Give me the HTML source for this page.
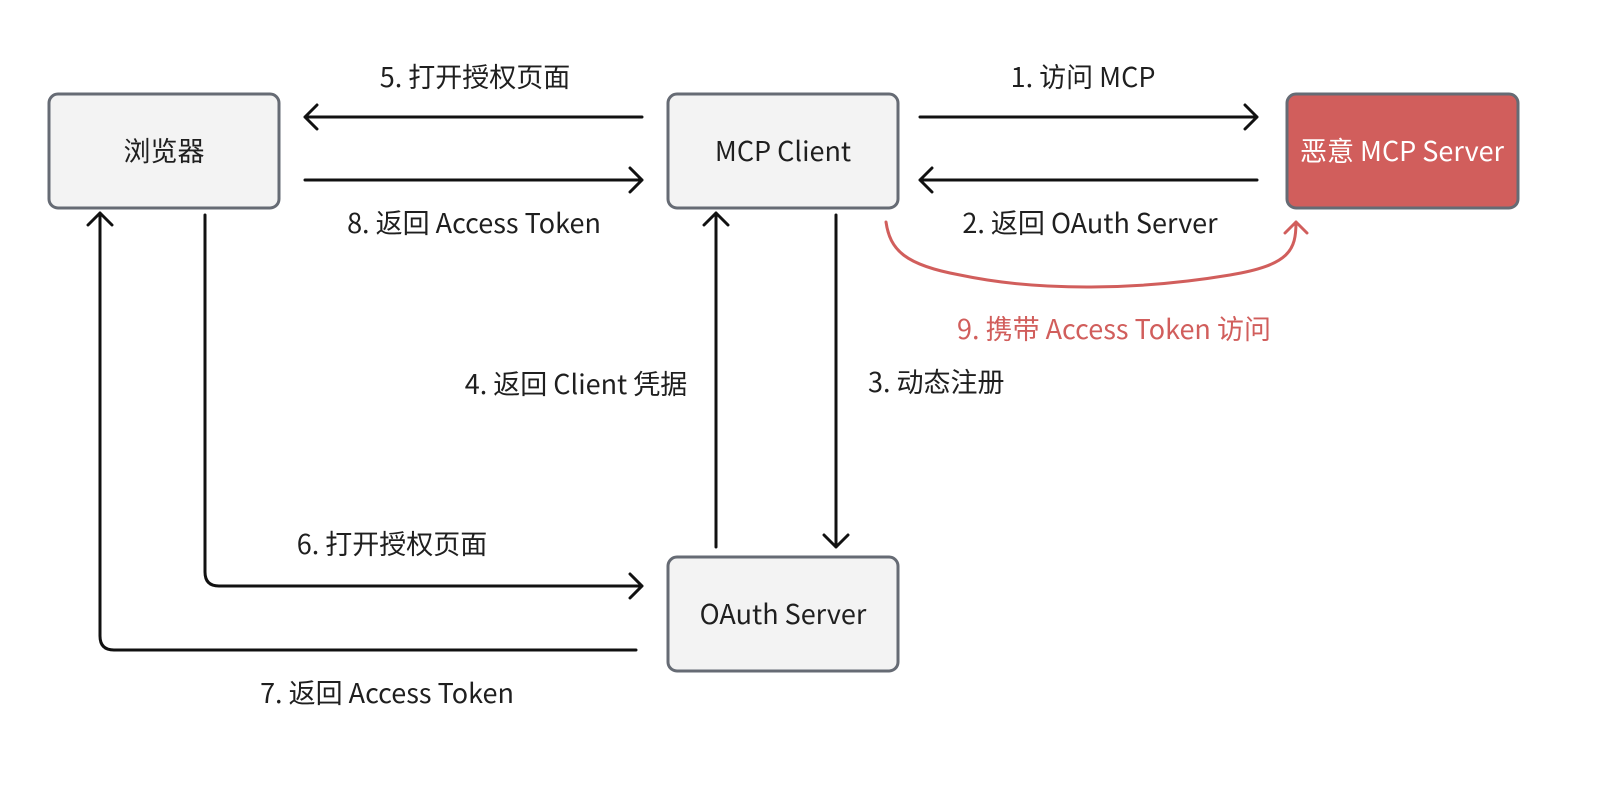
<!DOCTYPE html>
<html><head><meta charset="utf-8"><style>
body{margin:0;background:#fff;}
svg text{font-family:"Noto Sans CJK SC","Liberation Sans",sans-serif;font-size:27px;fill:#1f1f1f;}
</style></head><body>
<svg width="1606" height="788" viewBox="0 0 1606 788" xmlns="http://www.w3.org/2000/svg">
<g stroke="#666b74" stroke-width="3">
<rect x="49" y="94" width="230" height="114" rx="9" fill="#f3f3f3"/>
<rect x="668" y="94" width="230" height="114" rx="9" fill="#f3f3f3"/>
<rect x="1287" y="94" width="231" height="114" rx="9" fill="#d15e5c"/>
<rect x="668" y="557" width="230" height="114" rx="9" fill="#f3f3f3"/>
</g>
<text x="164" y="161" text-anchor="middle">浏览器</text>
<text x="783" y="161" text-anchor="middle">MCP Client</text>
<text x="1402" y="161" text-anchor="middle" style="fill:#fff">恶意 MCP Server</text>
<text x="783" y="624" text-anchor="middle">OAuth Server</text>
<g stroke="#111" stroke-width="3" fill="none" stroke-linecap="round" stroke-linejoin="round">
<path d="M920 117H1257M1245 105L1257 117L1245 129"/>
<path d="M1257 180H920M932 168L920 180L932 192"/>
<path d="M642 117H305M317 105L305 117L317 129"/>
<path d="M305 180H642M630 168L642 180L630 192"/>
<path d="M716 547V213M704 225L716 213L728 225"/>
<path d="M836 215V547M824 535L836 547L848 535"/>
<path d="M205 215V572Q205 586 219 586H642M630 574L642 586L630 598"/>
<path d="M636 650H114Q100 650 100 636V213M88 225L100 213L112 225"/>
</g>
<path d="M886 222C890 250 905 265 960 275C1040 292 1140 290 1230 275C1290 265 1296 250 1296 222M1285 233L1296 222L1307 233" stroke="#d15e5c" stroke-width="3" fill="none" stroke-linecap="round" stroke-linejoin="round"/>
<text x="475" y="87" text-anchor="middle">5. 打开授权页面</text>
<text x="1083" y="87" text-anchor="middle">1. 访问 MCP</text>
<text x="474" y="233" text-anchor="middle">8. 返回 Access Token</text>
<text x="1090" y="233" text-anchor="middle">2. 返回 OAuth Server</text>
<text x="1114" y="339" text-anchor="middle" style="fill:#d15e5c">9. 携带 Access Token 访问</text>
<text x="576" y="394" text-anchor="middle">4. 返回 Client 凭据</text>
<text x="868" y="392">3. 动态注册</text>
<text x="392" y="554" text-anchor="middle">6. 打开授权页面</text>
<text x="387" y="703" text-anchor="middle">7. 返回 Access Token</text>
</svg>
</body></html>
